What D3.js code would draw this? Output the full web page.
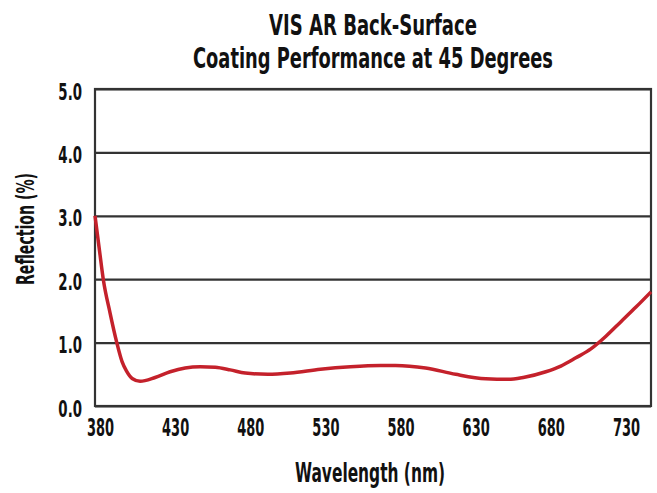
<!DOCTYPE html>
<html>
<head>
<meta charset="utf-8">
<script src="https://cdn.jsdelivr.net/npm/d3@7"></script>
<style>
  body { margin: 0; background: #fff; }
  text { font-family: "DejaVu Sans", sans-serif; font-weight: bold; fill: #111; }
</style>
</head>
<body>
<div class="Chart"></div>
<script>
// wavelength (nm) and reflection (%)
const wavelength = [380, 383, 385.5, 390, 394.5, 398, 401, 405, 410, 420, 430, 440, 450, 460, 470, 480, 495, 510, 530, 550, 570, 580, 600, 620, 640, 655, 665, 680, 690, 700, 710, 720, 730, 740, 750]
const reflection = [3.0, 2.45, 2.0, 1.47, 1.0, 0.7, 0.55, 0.43, 0.39, 0.45, 0.54, 0.6, 0.62, 0.61, 0.57, 0.52, 0.5, 0.52, 0.58, 0.62, 0.64, 0.64, 0.6, 0.5, 0.43, 0.42, 0.45, 0.54, 0.63, 0.76, 0.9, 1.1, 1.33, 1.56, 1.8]
const xTicks = [380, 430, 480, 530, 580, 630, 680, 730]
const yTicks = [0, 1, 2, 3, 4, 5]
const titleLines = ['VIS AR Back-Surface', 'Coating Performance at 45 Degrees']

const margin = ({top: 89, right: 6, bottom: 87, left: 95})
const width = 657 - margin.left - margin.right,
      height = 493 - margin.top - margin.bottom

// squeeze a text to look like the narrow font of the original
function squeeze(sel, k) {
  sel.each(function() {
    const len = this.getComputedTextLength()
    d3.select(this).attr('textLength', len * k).attr('lengthAdjust', 'spacingAndGlyphs')
  })
}
function fitTo(sel, w) {
  sel.attr('textLength', w).attr('lengthAdjust', 'spacingAndGlyphs')
}

const root = d3.select('.Chart').append('svg')
  .attr('width', 657)
  .attr('height', 493)

const svg = root.append('g')
  .attr('transform', 'translate(' + margin.left + ',' + margin.top + ')')

const xScale = d3.scaleLinear()
  .domain([380, 750])
  .range([0, width])

const yScale = d3.scaleLinear()
  .domain([0, 5])
  .range([height, 0])

// grid lines
svg.append('g')
  .attr('class', 'grid')
  .call(d3.axisLeft(yScale).tickValues(yTicks).tickSize(-width).tickFormat(''))
  .call(g => g.select('.domain').remove())
  .call(g => g.selectAll('line').attr('stroke', '#333').attr('stroke-width', 2.2))

// y labels
svg.append('g')
  .call(d3.axisLeft(yScale).tickValues(yTicks).tickSize(0).tickPadding(13).tickFormat(d3.format('.1f')))
  .call(g => g.select('.domain').remove())
  .call(g => g.selectAll('text').attr('font-size', 23).attr('fill', '#111').attr('dy', '0.44em').call(squeeze, 0.58))

// x labels
svg.append('g')
  .attr('transform', `translate(0,${height})`)
  .call(d3.axisBottom(xScale).tickValues(xTicks).tickSize(0).tickPadding(12).tickFormat(d3.format('d')))
  .call(g => g.select('.domain').remove())
  .call(g => g.selectAll('text').attr('font-size', 25).attr('fill', '#111').attr('dx', 5).call(squeeze, 0.52))

// frame
svg.append('rect')
  .attr('width', width)
  .attr('height', height)
  .attr('fill', 'none')
  .attr('stroke', '#333')
  .attr('stroke-width', 2.2)

const data = wavelength.map((w, i) => ({w, r: reflection[i]}))

const line = d3.line()
  .x(d => xScale(d.w))
  .y(d => yScale(d.r))
  .curve(d3.curveMonotoneX)

svg.append('path')
  .datum(data)
  .attr('d', line)
  .attr('fill', 'none')
  .attr('stroke', '#c4212b')
  .attr('stroke-width', 3.5)

// titles
root.selectAll('.title')
  .data(titleLines)
  .enter()
  .append('text')
  .attr('class', 'title')
  .attr('x', 373)
  .attr('y', (d, i) => 35 + i * 33)
  .attr('text-anchor', 'middle')
  .attr('font-size', 28)
  .text(d => d)
  .each(function(d, i) { fitTo(d3.select(this), i === 0 ? 208 : 360) })

root.append('text')
  .attr('x', 370)
  .attr('y', 482)
  .attr('text-anchor', 'middle')
  .attr('font-size', 27)
  .text('Wavelength (nm)')
  .call(fitTo, 150)

root.append('text')
  .attr('transform', 'translate(34,229) rotate(-90)')
  .attr('text-anchor', 'middle')
  .attr('font-size', 25)
  .text('Reflection (%)')
  .call(fitTo, 112)
</script>
</body>
</html>
